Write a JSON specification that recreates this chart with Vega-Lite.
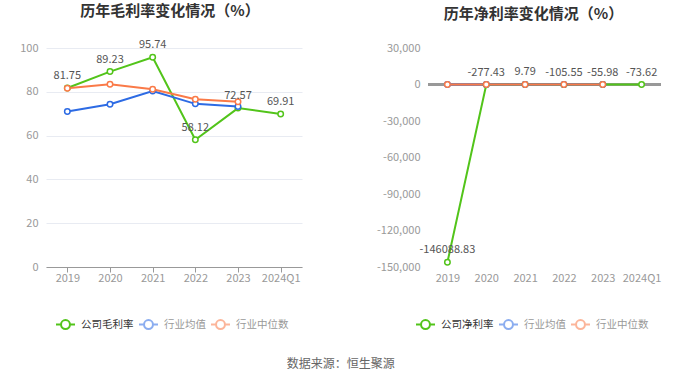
{
  "$schema": "https://vega.github.io/schema/vega-lite/v6.json",
  "background": "white",
  "padding": {"left": 19, "top": 4, "right": 5, "bottom": 5},
  "spacing": 74,
  "config": {
    "font": "Noto Sans CJK SC",
    "view": {"stroke": null},
    "axis": {"labelColor": "#999", "labelFontSize": 11, "title": null, "gridColor": "#e8ebf2", "gridWidth": 1, "labelOverlap": false},
    "title": {"fontSize": 15, "fontWeight": "bold", "color": "#333", "anchor": "middle"}
  },
  "title": {"text": "数据来源：恒生聚源", "orient": "bottom", "anchor": "middle", "fontSize": 12, "fontWeight": "normal", "color": "#666", "offset": 26},
  "resolve": {"scale": {"color": "independent"}, "legend": {"color": "independent"}},
  "hconcat": [
    {
      "width": 256,
      "height": 219,
      "title": {"text": "历年毛利率变化情况（%）", "offset": 20, "dx": -4},
      "data": {"values": [
        {"year": "2019", "series": "公司毛利率", "value": 81.75},
        {"year": "2020", "series": "公司毛利率", "value": 89.23},
        {"year": "2021", "series": "公司毛利率", "value": 95.74},
        {"year": "2022", "series": "公司毛利率", "value": 58.12},
        {"year": "2023", "series": "公司毛利率", "value": 72.57},
        {"year": "2024Q1", "series": "公司毛利率", "value": 69.91},
        {"year": "2019", "series": "行业均值", "value": 71.0},
        {"year": "2020", "series": "行业均值", "value": 74.3},
        {"year": "2021", "series": "行业均值", "value": 80.4},
        {"year": "2022", "series": "行业均值", "value": 74.5},
        {"year": "2023", "series": "行业均值", "value": 73.3},
        {"year": "2019", "series": "行业中位数", "value": 81.6},
        {"year": "2020", "series": "行业中位数", "value": 83.4},
        {"year": "2021", "series": "行业中位数", "value": 81.2},
        {"year": "2022", "series": "行业中位数", "value": 76.6},
        {"year": "2023", "series": "行业中位数", "value": 75.5}
      ]},
      "layer": [
        {
          "mark": {"type": "line", "strokeWidth": 2},
          "encoding": {
            "x": {"field": "year", "type": "ordinal", "sort": null, "scale": {"type": "point", "padding": 0.5},
                  "axis": {"labelAngle": 0, "domain": true, "domainColor": "#999", "ticks": true, "tickColor": "#999", "tickSize": 5, "labelPadding": 0, "grid": false}},
            "y": {"field": "value", "type": "quantitative", "scale": {"domain": [0, 100], "nice": false},
                  "axis": {"values": [0, 20, 40, 60, 80, 100], "tickCount": 10, "domain": false, "ticks": false, "labelPadding": 8, "labelOverlap": false}},
            "color": {"field": "series", "type": "nominal", "sort": null,
              "scale": {"domain": ["公司毛利率", "行业均值", "行业中位数"], "range": ["#52c41a", "#2d6be4", "#fa7a48"]},
              "legend": {"orient": "none", "legendX": 9, "legendY": 266, "direction": "horizontal", "title": null,
                "symbolType": "M-1,0L-0.47,0M0.47,0L1,0M-0.47,0A0.47,0.47,0,1,1,0.47,0A0.47,0.47,0,1,1,-0.47,0",
                "symbolSize": 361, "symbolStrokeWidth": 2, "symbolFillColor": "white", "labelFontSize": 10.5, "labelColor": "#333",
                "columnPadding": 1, "labelOffset": 5,
                "encode": {
                  "symbols": {"update": {"opacity": {"signal": "datum.value == '公司毛利率' ? 1 : 0.55"}}},
                  "labels": {"update": {"fill": {"signal": "datum.value == '公司毛利率' ? '#333' : '#999'"}}}
                }}}
          }
        },
        {
          "mark": {"type": "point", "filled": false, "fill": "white", "size": 30, "strokeWidth": 1.5, "opacity": 1},
          "encoding": {
            "x": {"field": "year", "type": "ordinal", "sort": null},
            "y": {"field": "value", "type": "quantitative"},
            "color": {"field": "series", "type": "nominal", "sort": null}
          }
        },
        {
          "transform": [
            {"filter": "datum.series == '公司毛利率'"},
            {"calculate": "replace(format(datum.value, '.2f'), '\u2212', '-')", "as": "label"}
          ],
          "mark": {"type": "text", "dy": -12, "fontSize": 11, "color": "#555"},
          "encoding": {
            "x": {"field": "year", "type": "ordinal", "sort": null},
            "y": {"field": "value", "type": "quantitative"},
            "text": {"field": "label", "type": "nominal"}
          }
        }
      ]
    },
    {
      "width": 233,
      "height": 219,
      "title": {"text": "历年净利率变化情况（%）", "offset": 20, "dx": -11},
      "data": {"values": [
        {"year": "2019", "series": "公司净利率", "value": -146088.83},
        {"year": "2020", "series": "公司净利率", "value": -277.43},
        {"year": "2021", "series": "公司净利率", "value": 9.79},
        {"year": "2022", "series": "公司净利率", "value": -105.55},
        {"year": "2023", "series": "公司净利率", "value": -55.98},
        {"year": "2024Q1", "series": "公司净利率", "value": -73.62},
        {"year": "2019", "series": "行业均值", "value": -20},
        {"year": "2020", "series": "行业均值", "value": 5},
        {"year": "2021", "series": "行业均值", "value": -8},
        {"year": "2022", "series": "行业均值", "value": -12},
        {"year": "2023", "series": "行业均值", "value": -18},
        {"year": "2019", "series": "行业中位数", "value": 8},
        {"year": "2020", "series": "行业中位数", "value": 10},
        {"year": "2021", "series": "行业中位数", "value": 9},
        {"year": "2022", "series": "行业中位数", "value": 6},
        {"year": "2023", "series": "行业中位数", "value": 5}
      ]},
      "layer": [
        {
          "mark": {"type": "rule", "color": "#999", "strokeWidth": 1.5},
          "encoding": {"y": {"datum": 0, "type": "quantitative", "scale": {"domain": [-150000, 30000], "nice": false},
                  "axis": {"values": [-150000, -120000, -90000, -60000, -30000, 0, 30000], "tickCount": 10, "domain": false, "ticks": false, "labelPadding": 8,
                           "labelOverlap": false, "labelExpr": "replace(format(datum.value, ','), '\u2212', '-')"}}}
        },
        {
          "mark": {"type": "line", "strokeWidth": 2},
          "encoding": {
            "x": {"field": "year", "type": "ordinal", "sort": null, "scale": {"type": "point", "padding": 0.5},
                  "axis": {"labelAngle": 0, "domain": false, "ticks": false, "labelPadding": 5, "grid": false}},
            "y": {"field": "value", "type": "quantitative", "scale": {"domain": [-150000, 30000], "nice": false},
                  "axis": {"values": [-150000, -120000, -90000, -60000, -30000, 0, 30000], "tickCount": 10, "domain": false, "ticks": false, "labelPadding": 8,
                           "labelOverlap": false, "labelExpr": "replace(format(datum.value, ','), '\u2212', '-')"}},
            "color": {"field": "series", "type": "nominal", "sort": null,
              "scale": {"domain": ["公司净利率", "行业均值", "行业中位数"], "range": ["#52c41a", "#2d6be4", "#fa7a48"]},
              "legend": {"orient": "none", "legendX": -13, "legendY": 266, "direction": "horizontal", "title": null,
                "symbolType": "M-1,0L-0.47,0M0.47,0L1,0M-0.47,0A0.47,0.47,0,1,1,0.47,0A0.47,0.47,0,1,1,-0.47,0",
                "symbolSize": 361, "symbolStrokeWidth": 2, "symbolFillColor": "white", "labelFontSize": 10.5, "labelColor": "#333",
                "columnPadding": 1, "labelOffset": 5,
                "encode": {
                  "symbols": {"update": {"opacity": {"signal": "datum.value == '公司净利率' ? 1 : 0.55"}}},
                  "labels": {"update": {"fill": {"signal": "datum.value == '公司净利率' ? '#333' : '#999'"}}}
                }}}
          }
        },
        {
          "mark": {"type": "point", "filled": false, "fill": "white", "size": 30, "strokeWidth": 1.5, "opacity": 1},
          "encoding": {
            "x": {"field": "year", "type": "ordinal", "sort": null},
            "y": {"field": "value", "type": "quantitative"},
            "color": {"field": "series", "type": "nominal", "sort": null}
          }
        },
        {
          "transform": [
            {"filter": "datum.series == '公司净利率'"},
            {"calculate": "replace(format(datum.value, '.2f'), '\u2212', '-')", "as": "label"}
          ],
          "mark": {"type": "text", "dy": -12, "fontSize": 11, "color": "#555"},
          "encoding": {
            "x": {"field": "year", "type": "ordinal", "sort": null},
            "y": {"field": "value", "type": "quantitative"},
            "text": {"field": "label", "type": "nominal"}
          }
        }
      ]
    }
  ]
}
